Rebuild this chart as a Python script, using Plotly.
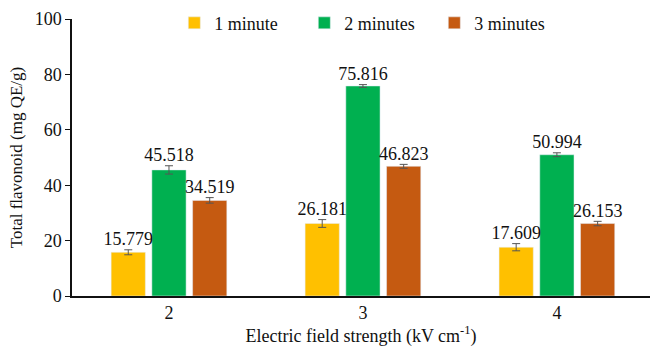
import plotly.graph_objects as go

categories = ["2", "3", "4"]
series_names = ["1 minute", "2 minutes", "3 minutes"]
values_1min = [15.779, 26.181, 17.609]
values_2min = [45.518, 75.816, 50.994]
values_3min = [34.519, 46.823, 26.153]
err_1min = [0.9, 1.4, 1.3]
err_2min = [1.5, 0.5, 0.7]
err_3min = [1.0, 0.7, 0.8]
colors = ["#FFC000", "#00B050", "#C55A11"]
y_ticks = [0, 20, 40, 60, 80, 100]

FONT = "Liberation Serif"
fig = go.Figure()
all_vals = [values_1min, values_2min, values_3min]
all_errs = [err_1min, err_2min, err_3min]
for i, (name, vals, errs, col) in enumerate(zip(series_names, all_vals, all_errs, colors)):
    fig.add_trace(go.Bar(
        x=categories, y=vals, name=name, marker_color=col,
        offsetgroup=str(i), alignmentgroup="a",
        error_y=dict(type="data", array=errs, visible=True, color="#555555", thickness=1, width=4),
    ))
for i, (vals, errs) in enumerate(zip(all_vals, all_errs)):
    fig.add_trace(go.Scatter(
        x=categories, y=[v + e for v, e in zip(vals, errs)], mode="text",
        text=[f"{v:.3f}" for v in vals], textposition="top center",
        textfont=dict(family=FONT, size=18, color="#111111"),
        offsetgroup=str(i), alignmentgroup="a", showlegend=False, cliponaxis=False,
        hoverinfo="skip",
    ))

fig.update_layout(
    width=650, height=347,
    margin=dict(l=72, r=0, t=19, b=51),
    paper_bgcolor="white", plot_bgcolor="white",
    barmode="group", bargap=0.37, bargroupgap=0.16,
    scattermode="group", scattergap=0.37,
    font=dict(family=FONT, size=18, color="#111111"),
    showlegend=True,
    legend=dict(orientation="h", x=0.177, y=0.985, xanchor="left", yanchor="middle",
                font=dict(family=FONT, size=18), bgcolor="rgba(0,0,0,0)",
                traceorder="normal", itemwidth=30, entrywidth=85),
    xaxis=dict(showline=True, linecolor="#111111", linewidth=1.5, ticks="",
               tickfont=dict(family=FONT, size=18),
               title=dict(text="Electric field strength (kV cm<sup>-1</sup>)", standoff=10,
                          font=dict(family=FONT, size=18)),
               range=[-0.5, 2.48]),
    yaxis=dict(range=[0, 100], tickvals=y_ticks, showline=True, linecolor="#111111", linewidth=1.5,
               ticks="outside", ticklen=5, tickcolor="#111111", showgrid=False, zeroline=False,
               tickfont=dict(family=FONT, size=18),
               title=dict(text="Total flavonoid (mg QE/g)", standoff=8,
                          font=dict(family=FONT, size=17))),
)
fig.write_html("out.html")
